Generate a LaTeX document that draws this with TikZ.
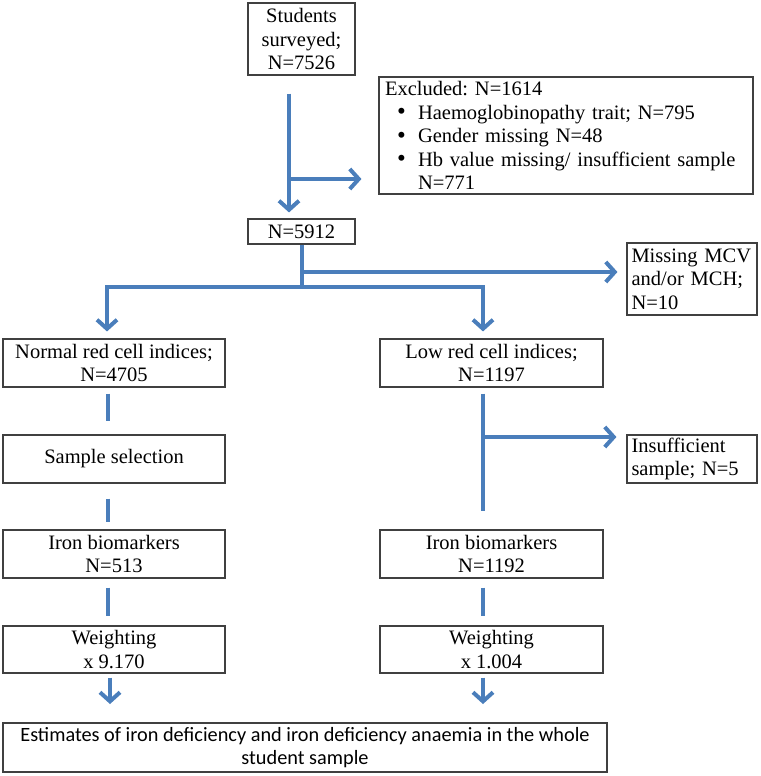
\documentclass[tikz,border=0pt]{standalone}
\usepackage{fontspec}
\setmainfont{Liberation Serif}
\newfontfamily\calib{Carlito}
\usetikzlibrary{arrows.meta}
\definecolor{arrowblue}{HTML}{4A7EBB}
\definecolor{boxgray}{HTML}{404040}
\frenchspacing
\newcommand{\bulletitem}{\hspace*{12pt}\makebox[21pt][l]{\smash{\raisebox{-0.5pt}{\fontsize{25}{20}\selectfont\textbullet}}}}
\tikzset{
  box/.style={draw=boxgray, line width=1.1pt, inner sep=0pt, align=center,
    font=\fontsize{20.5}{23.5}\selectfont},
  leftbox/.style={box, align=left, inner xsep=4.5pt},
  arr/.style={draw=arrowblue, line width=4pt, -{Straight Barb[length=9pt,width=20pt]}},
  ln/.style={draw=arrowblue, line width=4pt},
}
\begin{document}
\begin{tikzpicture}[x=1pt,y=-1pt]
\useasboundingbox (0,0) rectangle (760,776);
\node[box, minimum width=107pt, minimum height=72pt] (stud) at (301.5,39) {Students\\surveyed;\\N=7526};
\node[box, align=left, inner xsep=6pt, text width=362pt, minimum width=374pt, minimum height=117pt] (excl) at (566,135.5)
  {Excluded: N=1614\\
   \bulletitem Haemoglobinopathy trait; N=795\\
   \bulletitem Gender missing N=48\\
   \bulletitem Hb value missing/ insufficient sample\\
   \hspace*{33pt}N=771};
\node[box, minimum width=107pt, minimum height=25pt] (n5912) at (301.5,231.5) {N=5912};
\node[leftbox, text width=121pt, minimum width=130pt, minimum height=72pt] (miss) at (692,279) {Missing MCV\\and/or MCH;\\N=10};
\node[box, minimum width=222pt, minimum height=48pt] (norm) at (114,363) {Normal red cell indices;\\N=4705};
\node[box, minimum width=223pt, minimum height=48pt] (low) at (491.5,363) {Low red cell indices;\\N=1197};
\node[box, minimum width=222pt, minimum height=48pt] (samp) at (114,459) {Sample selection};
\node[leftbox, text width=121pt, minimum width=130pt, minimum height=48pt] (insuf) at (692,459) {Insufficient\\sample;\ N=5};
\node[box, minimum width=222pt, minimum height=48pt] (iron1) at (114,554) {Iron biomarkers\\N=513};
\node[box, minimum width=223pt, minimum height=48pt] (iron2) at (491.5,554) {Iron biomarkers\\N=1192};
\node[box, minimum width=222pt, minimum height=47pt] (wt1) at (114,649.5) {Weighting\\x 9.170};
\node[box, minimum width=223pt, minimum height=47pt] (wt2) at (491.5,649.5) {Weighting\\x 1.004};
\node[box, font=\calib\fontsize{20.3}{22.5}\selectfont, minimum width=604pt, minimum height=49pt] (est) at (305,747.5)
  {Estimates of iron deficiency and iron deficiency anaemia in the whole\\student sample};

% students -> N=5912
\draw[arr] ([xshift=-12.5pt,yshift=-18pt]stud.south) -- ([xshift=-12.5pt,yshift=6pt]n5912.north);
\coordinate (b1) at (289,179);
\draw[arr, shorten >=17pt] (b1) -- (b1 -| excl.west);
% N=5912 branches
\coordinate (b2) at (301.5,287);
\coordinate (b3) at (301.5,272);
\draw[ln] (n5912.south) -- (b2);
\draw[arr, shorten >=9pt] (b3) -- (b3 -| miss.west);
\draw[arr] (b2) -| ([xshift=-7pt,yshift=7pt]norm.north);
\draw[arr] (b2) -| ([xshift=-8.5pt,yshift=7pt]low.north);
% left column
\draw[ln] ([xshift=-6pt,yshift=-6pt]norm.south) -- ([xshift=-6pt,yshift=13pt]samp.north);
\draw[ln] ([xshift=-6pt,yshift=-15pt]samp.south) -- ([xshift=-6pt,yshift=7pt]iron1.north);
\draw[ln] ([xshift=-6pt,yshift=-9pt]iron1.south) -- ([xshift=-6pt,yshift=9pt]wt1.north);
\draw[arr] ([xshift=-4pt,yshift=-4pt]wt1.south) -- ([xshift=-4pt]wt1.south |- 0,704);
% right column
\draw[ln] ([xshift=-8.5pt,yshift=-6pt]low.south) -- ([xshift=-8.5pt,yshift=18pt]iron2.north);
\coordinate (b4) at (483,437);
\draw[arr, shorten >=10pt] (b4) -- (b4 -| insuf.west);
\draw[ln] ([xshift=-8.5pt,yshift=-9pt]iron2.south) -- ([xshift=-8.5pt,yshift=9pt]wt2.north);
\draw[arr] ([xshift=-8.5pt,yshift=-4pt]wt2.south) -- ([xshift=-8.5pt]wt2.south |- 0,704);
\end{tikzpicture}
\end{document}
